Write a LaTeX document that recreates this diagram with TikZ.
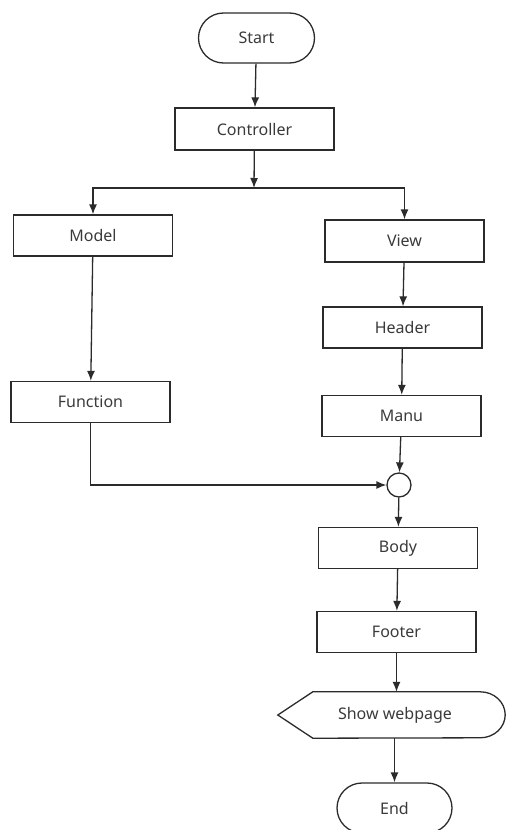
\documentclass[tikz,border=0pt]{standalone}
\usepackage{fontspec}
\setmainfont{Noto Sans}
\usetikzlibrary{arrows.meta,shapes.misc}
\definecolor{ink}{HTML}{2B2B2B}
\definecolor{txt}{HTML}{3A3A3A}
\begin{document}
\begin{tikzpicture}[x=1pt,y=-1pt,
  every node/.style={font=\fontsize{16}{19}\selectfont,text=txt},
  line/.style={draw=ink,line width=1.3pt},
  flow/.style={line,-{Latex[length=10pt,width=8pt]}},
  procbox/.style={line,rectangle,minimum width=159pt,minimum height=41pt,inner sep=0pt},
  terminal/.style={line,rounded rectangle,minimum width=116pt,minimum height=50pt,inner sep=0pt},
  joint/.style={line,circle,minimum size=24pt,inner sep=0pt}]
\useasboundingbox (0,0) rectangle (510,830);

% terminals and process boxes
\node[terminal] (start) at (256.5,38) {Start};
\node[procbox,minimum height=42pt] (ctrl) at (254.5,129) {Controller};
\node[procbox] (model) at (93,235.5) {Model};
\node[procbox,minimum height=42pt] (view) at (404.5,241) {View};
\node[procbox] (header) at (402.5,327.5) {Header};
\node[procbox] (func) at (90.5,402) {Function};
\node[procbox] (manu) at (401.5,416) {Manu};
\node[joint] (join) at (399,485) {};
\node[procbox] (body) at (398,548) {Body};
\node[procbox] (footer) at (396.5,632) {Footer};

% display symbol
\node[minimum width=227pt,minimum height=46pt,inner sep=0pt] (showbox) at (391.5,715) {};
\node (show) at (395,715) {Show webpage};
\draw[line] (showbox.west) -- ([xshift=35pt]showbox.north west)
  -- ([xshift=-25pt]showbox.north east)
  arc[start angle=90,end angle=-90,x radius=25pt,y radius=23pt]
  -- ([xshift=35pt]showbox.south west) -- cycle;

\node[terminal,minimum width=115pt] (end) at (394.5,808) {End};

% split point below the controller
\coordinate (split) at (254,188);

% connectors
\draw[flow] (start) -- (ctrl);
\draw[flow] (ctrl) -- (split);
\draw[flow] (split) -| (model.north);
\draw[flow] (split) -| (view.north);
\draw[flow] (model) -- (func);
\draw[flow] (view) -- (header);
\draw[flow] (header) -- (manu);
\draw[flow] (manu) -- (join);
\draw[flow] (func.south) |- (join.west);
\draw[flow] (join) -- (body);
\draw[flow] (body) -- (footer);
\draw[flow] (footer.south) -- (footer.south |- showbox.north);
\draw[flow] (end.north |- showbox.south) -- (end.north);
\end{tikzpicture}
\end{document}
